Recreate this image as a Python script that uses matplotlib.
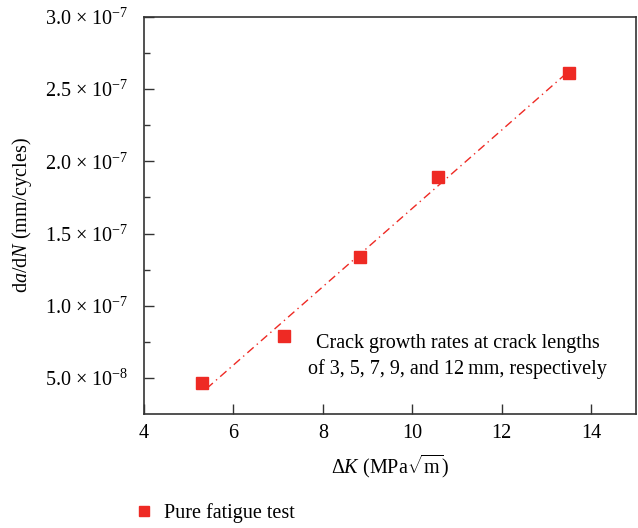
import matplotlib.pyplot as plt
import numpy as np

plt.rcParams['font.family'] = ['Liberation Serif', 'DejaVu Serif']
plt.rcParams['mathtext.fontset'] = 'custom'
plt.rcParams['mathtext.rm'] = 'Liberation Serif'
plt.rcParams['mathtext.it'] = 'Liberation Serif:italic'

# stress intensity factor range vs. crack growth rate
delta_k = [5.30, 7.12, 8.82, 10.57, 13.50]
dadn = [4.65e-8, 7.92e-8, 1.34e-7, 1.89e-7, 2.615e-7]

y_ticks = [5e-8, 1e-7, 1.5e-7, 2e-7, 2.5e-7, 3e-7]
y_labels = ['5.0 \u00d7 10$^{-8}$', '1.0 \u00d7 10$^{-7}$', '1.5 \u00d7 10$^{-7}$',
            '2.0 \u00d7 10$^{-7}$', '2.5 \u00d7 10$^{-7}$', '3.0 \u00d7 10$^{-7}$']
x_ticks = [4, 6, 8, 10, 12, 14]

red = '#ee2a24'

fig = plt.figure(figsize=(6.38, 5.28), dpi=100)
ax = fig.add_axes([0.2257, 0.2159, 0.7712, 0.7519])

# linear fit through the points
k, b = np.polyfit(delta_k, dadn, 1)
xf = np.array([delta_k[0] + 0.1, delta_k[-1] - 0.05])
ax.plot(xf, k * xf + b, color=red, lw=1.0, ls=(0, (6, 3, 1, 3)))
pts, = ax.plot(delta_k, dadn, 's', color=red, ms=8.5, ls='none', label='Pure fatigue test')

ax.set_xlim(4, 15)
ax.set_ylim(2.5e-8, 3e-7)
ax.set_xticks(x_ticks)
ax.set_yticks(y_ticks)
ax.set_yticklabels(y_labels)
ax.set_yticks([7.5e-8, 1.25e-7, 1.75e-7, 2.25e-7, 2.75e-7], minor=True)
ax.tick_params(direction='in', length=7, width=1, labelsize=14.5, color='#333333')
ax.tick_params(which='minor', direction='in', length=4, width=1, color='#333333')
ax.tick_params(axis='x', pad=7)
ax.tick_params(axis='y', pad=11)
for s in ax.spines.values():
    s.set_linewidth(1.2)
    s.set_color('#333333')

ax.set_xlabel(r'$\Delta K$ (MPa$\sqrt{\mathrm{m}}$)', fontsize=14.5, labelpad=7)
ax.set_ylabel(r'd$a$/d$N$ (mm/cycles)', fontsize=14.5, labelpad=8)

ax.text(0.638, 0.145, 'Crack growth rates at crack lengths\nof 3, 5, 7, 9, and 12\u2009mm, respectively',
        transform=ax.transAxes, ha='center', va='center', fontsize=14.5, linespacing=1.4)

fig.legend(handles=[pts], loc='lower left', bbox_to_anchor=(0.185, -0.025), frameon=False,
           fontsize=14.5, handlelength=0.8, handletextpad=0.6, markerscale=0.9)

fig.savefig('out.png', dpi=100)
